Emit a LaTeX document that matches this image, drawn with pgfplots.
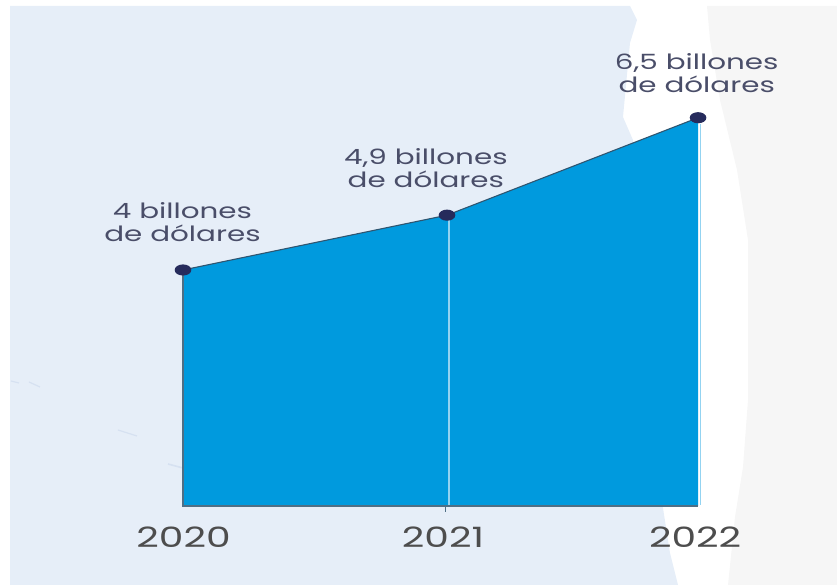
\documentclass[border=0pt]{standalone}
\usepackage{fontspec}
\setmainfont[FakeStretch=1.4]{Poppins}
\usepackage{pgfplots}
\pgfplotsset{compat=1.18}

\definecolor{panel}{HTML}{E6EEF8}
\definecolor{coast}{HTML}{F6F6F6}
\definecolor{streak}{HTML}{D6E1F1}
\definecolor{area}{HTML}{009ADE}
\definecolor{navy}{HTML}{262B5C}
\definecolor{ridge}{HTML}{2F5570}
\definecolor{edge}{HTML}{4F6F85}
\definecolor{light}{HTML}{93D3F1}
\definecolor{labeltext}{HTML}{4A4E69}
\definecolor{yeartext}{HTML}{4D4D4D}

\begin{document}
\begin{tikzpicture}
  % background shapes, in picture pixels
  \begin{axis}[
    at={(0,0)}, anchor=south west,
    scale only axis, width=837pt, height=585pt,
    xmin=0, xmax=837, ymin=0, ymax=585, y dir=reverse,
    axis lines=none
  ]
    \addplot[fill=panel, draw=none] coordinates {
      (10,6) (630,6) (637,20) (630,43) (623,117) (633,140) (650,300)
      (663,508) (670,553) (678,585) (10,585)} -- cycle;
    \addplot[fill=coast, draw=none] coordinates {
      (707,6) (837,6) (837,585) (728,585) (735,517) (743,467) (748,400)
      (748,240) (737,170) (720,100) (710,40)} -- cycle;
    \addplot[streak, line width=1.2pt] coordinates {(11,381) (19,383)};
    \addplot[streak, line width=1.2pt] coordinates {(29,382) (40,387)};
    \addplot[streak, line width=1.2pt] coordinates {(118,430) (137,436)};
    \addplot[streak, line width=1.6pt] coordinates {(168,464) (183,468)};
  \end{axis}

  % the chart, value axis scaled so the three points sit where they are drawn
  \begin{axis}[
    at={(0,0)}, anchor=south west,
    scale only axis, width=837pt, height=585pt,
    xmin=2019.3068, xmax=2022.4773,
    ymin=-1.172, ymax=8.433,
    axis line style={draw=none},
    ytick=\empty,
    xtick={2020.002,2020.985,2021.94},
    xticklabels={2020,2021,2022},
    major tick length=0pt,
    xtick pos=bottom,
    xticklabel style={font=\fontsize{28}{28}\selectfont, text=yeartext, anchor=center, yshift=48pt},
    every axis plot/.append style={forget plot}
  ]
    \addplot[fill=area, draw=none] coordinates {
      (2020,0.125) (2020,4) (2021,4.9) (2021.951,6.5) (2021.951,0.125)} -- cycle;

    % edges of the area
    \addplot[edge, line width=1.1pt] coordinates {(2020,4) (2020,0.125) (2021.951,0.125)};
    \addplot[light, line width=1.4pt] coordinates {(2021.96,6.4) (2021.96,0.14)};
    \addplot[light, line width=1.4pt] coordinates {(2021.008,4.85) (2021.008,0.14)};
    \addplot[edge, line width=0.9pt] coordinates {(2020.996,0.125) (2020.996,0.02)};

    % the series
    \addplot[ridge, line width=1.1pt, mark=*,
      mark options={fill=navy, draw=navy, xscale=1.55}, mark size=5pt]
      coordinates {(2020,4) (2021,4.9) (2021.951,6.5)};

    \begin{scope}[every node/.style={align=center, text=labeltext,
        font=\fontsize{21}{23}\selectfont}]
      \node at (axis cs:2019.998,4.79) {4 billones\\de dólares};
      \node at (axis cs:2020.92,5.67) {4,9 billones\\de dólares};
      \node at (axis cs:2021.946,7.24) {6,5 billones\\de dólares};
    \end{scope}
  \end{axis}
\end{tikzpicture}
\end{document}
